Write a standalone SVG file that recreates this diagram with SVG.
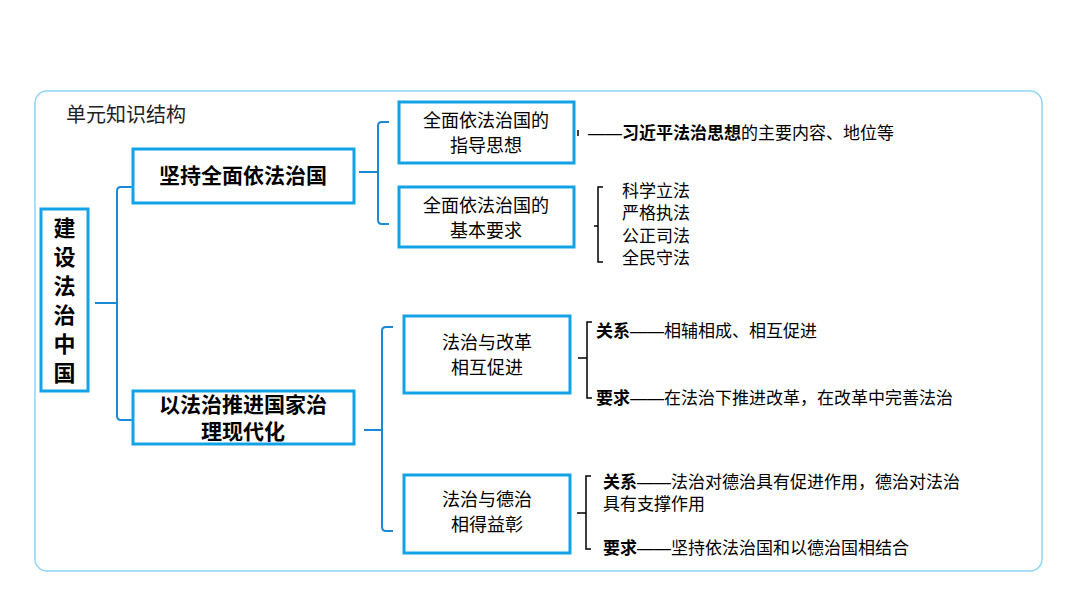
<svg xmlns="http://www.w3.org/2000/svg" width="1066" height="600" viewBox="0 0 1066 600">
<style>
text{font-family:"Liberation Sans","Noto Sans CJK SC",sans-serif;fill:#000}
.box{fill:#fff;stroke:#12a3e6;stroke-width:3}
.bl{fill:none;stroke:#1a8ad6;stroke-width:2}
.bk{fill:none;stroke:#000;stroke-width:1.5}
.n{font-size:18px;text-anchor:middle}
.b{font-weight:bold}
.s{font-size:17px}
</style>
<rect width="1066" height="600" fill="#fff"/>
<rect x="35" y="91" width="1007" height="480" rx="12" fill="none" stroke="#8fd6f2" stroke-width="1.5"/>
<text x="66" y="122" font-size="20" style="fill:#222">单元知识结构</text>
<g id="connectors">
<path class="bl" d="M95 303H117M133 187H121Q117 187 117 191V416Q117 420 121 420H133"/>
<path class="bl" d="M359 172H378M389 122H382Q378 122 378 126V220Q378 224 382 224H389"/>
<path class="bl" d="M364 430H382M393 327H386Q382 327 382 331V527Q382 531 386 531H393"/>
<path class="bk" d="M578 358H587M592 322H587V398H592"/>
<path class="bk" d="M577 513H586M591 476H586V549H591"/>
<path class="bk" d="M603 187H598V262H603M594 226H598"/>
<path class="bk" d="M578 130V136"/>
</g>
<g id="root"><rect class="box" x="41" y="209" width="47" height="182"/>
<text x="64.5" y="236" font-size="22" class="b" text-anchor="middle">建</text>
<text x="64.5" y="265" font-size="22" class="b" text-anchor="middle">设</text>
<text x="64.5" y="294" font-size="22" class="b" text-anchor="middle">法</text>
<text x="64.5" y="323" font-size="22" class="b" text-anchor="middle">治</text>
<text x="64.5" y="352" font-size="22" class="b" text-anchor="middle">中</text>
<text x="64.5" y="381" font-size="22" class="b" text-anchor="middle">国</text></g>
<g id="b1"><rect class="box" x="133" y="149" width="221" height="54"/><text x="243" y="183" font-size="21" class="b" text-anchor="middle">坚持全面依法治国</text></g>
<g id="b2"><rect class="box" x="133" y="391" width="221" height="53"/><text x="243" y="412" font-size="21" class="b" text-anchor="middle">以法治推进国家治</text><text x="243" y="439" font-size="21" class="b" text-anchor="middle">理现代化</text></g>
<g id="c1"><rect class="box" x="399" y="102" width="175" height="61"/><text class="n" x="486" y="127">全面依法治国的</text><text class="n" x="486" y="152">指导思想</text></g>
<g id="c2"><rect class="box" x="399" y="187" width="175" height="60"/><text class="n" x="486" y="212">全面依法治国的</text><text class="n" x="486" y="237">基本要求</text></g>
<g id="c3"><rect class="box" x="404" y="316" width="166" height="77"/><text class="n" x="487" y="349">法治与改革</text><text class="n" x="487" y="374">相互促进</text></g>
<g id="c4"><rect class="box" x="404" y="475" width="166" height="78"/><text class="n" x="487" y="506">法治与德治</text><text class="n" x="487" y="531">相得益彰</text></g>
<g id="leaves">
<text class="s" x="588" y="139">——<tspan class="b">习近平法治思想</tspan>的主要内容、地位等</text>
<text class="s" x="622" y="197">科学立法</text>
<text class="s" x="622" y="219">严格执法</text>
<text class="s" x="622" y="242">公正司法</text>
<text class="s" x="622" y="264">全民守法</text>
<text class="s" x="596" y="337"><tspan class="b">关系</tspan>——相辅相成、相互促进</text>
<text class="s" x="596" y="404"><tspan class="b">要求</tspan>——在法治下推进改革，在改革中完善法治</text>
<text class="s" x="603" y="488"><tspan class="b">关系</tspan>——法治对德治具有促进作用，德治对法治</text>
<text class="s" x="603" y="510">具有支撑作用</text>
<text class="s" x="603" y="554"><tspan class="b">要求</tspan>——坚持依法治国和以德治国相结合</text>
</g>
</svg>
